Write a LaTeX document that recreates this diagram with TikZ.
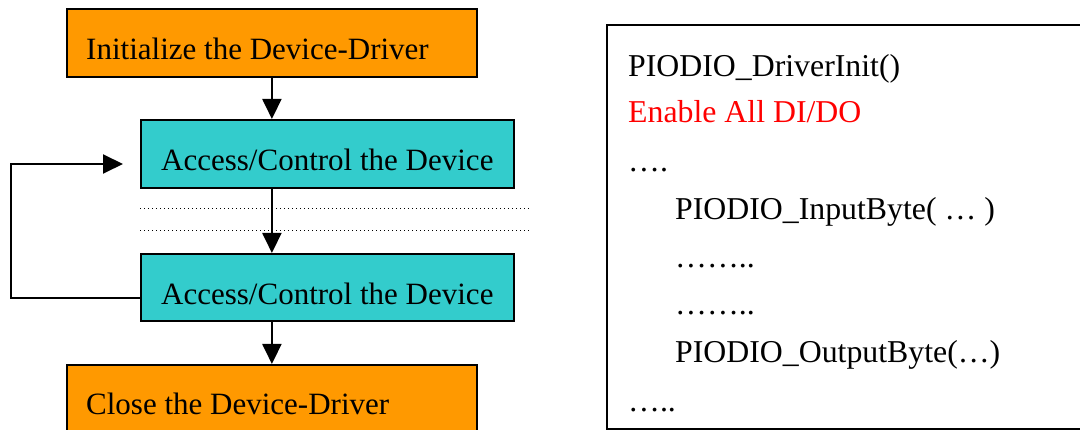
\documentclass[tikz,border=0pt]{standalone}
\usepackage{fontspec}
\setmainfont{Liberation Serif}
\usetikzlibrary{arrows.meta}
\definecolor{stageorange}{HTML}{FF9900}
\definecolor{stagecyan}{HTML}{33CCCC}
\definecolor{codered}{HTML}{FF0000}
\tikzset{
  box/.style={draw=black, line width=1.8pt, inner sep=0pt, anchor=north west},
  obox/.style={box, fill=stageorange},
  cbox/.style={box, fill=stagecyan},
  lbl/.style={inner sep=0pt, anchor=base west, font=\fontsize{31}{37}\selectfont},
  codelbl/.style={inner sep=0pt, anchor=base west, font=\fontsize{31.8}{38}\selectfont},
  flow/.style={line width=2pt, -{Triangle[length=20pt,width=19pt]}},
  sepline/.style={line width=1pt, dash pattern=on 1.2pt off 2.8pt},
}
\begin{document}
\begin{tikzpicture}[x=1pt,y=-1pt]
\useasboundingbox (0,0) rectangle (1080,430);
\clip (0,0) rectangle (1080,430);

% flow chart stages
\node[obox, minimum width=410pt, minimum height=68pt] (init) at (66,8) {};
\node[lbl] (initT) at (86,60) {Initialize the Device-Driver};
\node[cbox, minimum width=373pt, minimum height=68pt] (acc1) at (140,119) {};
\node[lbl] (acc1T) at (161,171) {Access/Control the Device};
\node[cbox, minimum width=373pt, minimum height=67pt] (acc2) at (140,253) {};
\node[lbl] (acc2T) at (161,305) {Access/Control the Device};
\node[obox, minimum width=410pt, minimum height=90pt] (close) at (66,364) {};
\node[lbl] (closeT) at (86,415) {Close the Device-Driver};

% separators between the two access steps
\coordinate (s1a) at (140,209); \coordinate (s1b) at (529,209);
\coordinate (s2a) at (140,231); \coordinate (s2b) at (529,231);
\draw[sepline] (s1a) -- (s1b);
\draw[sepline] (s2a) -- (s2b);

% main flow
\draw[flow] (init.south) -- (init.south |- acc1.north);
\draw[flow] (init.south |- acc1.south) -- (init.south |- acc2.north);
\draw[flow] (init.south |- acc2.south) -- (init.south |- close.north);

% loop back
\coordinate (lpA) at (140,298);
\coordinate (lpB) at (11,298);
\coordinate (lpC) at (11,164);
\coordinate (lpD) at (123,164);
\draw[flow, line join=miter] (lpA) -- (lpB) -- (lpC) -- (lpD);

% code listing
\node[box, minimum width=500pt, minimum height=404pt] (code) at (606,24) {};
\node[codelbl] (c1) at (628,77) {PIODIO\_DriverInit()};
\node[codelbl, text=codered] (c2) at (628,123) {Enable All DI/DO};
\node[codelbl] (c3) at (628,172) {….};
\node[codelbl] (c4) at (675,220) {PIODIO\_InputByte( … )};
\node[codelbl] (c5) at (675,268) {……..};
\node[codelbl] (c6) at (675,315) {……..};
\node[codelbl] (c7) at (675,363) {PIODIO\_OutputByte(…)};
\node[codelbl] (c8) at (628,412) {…..};
\end{tikzpicture}
\end{document}
